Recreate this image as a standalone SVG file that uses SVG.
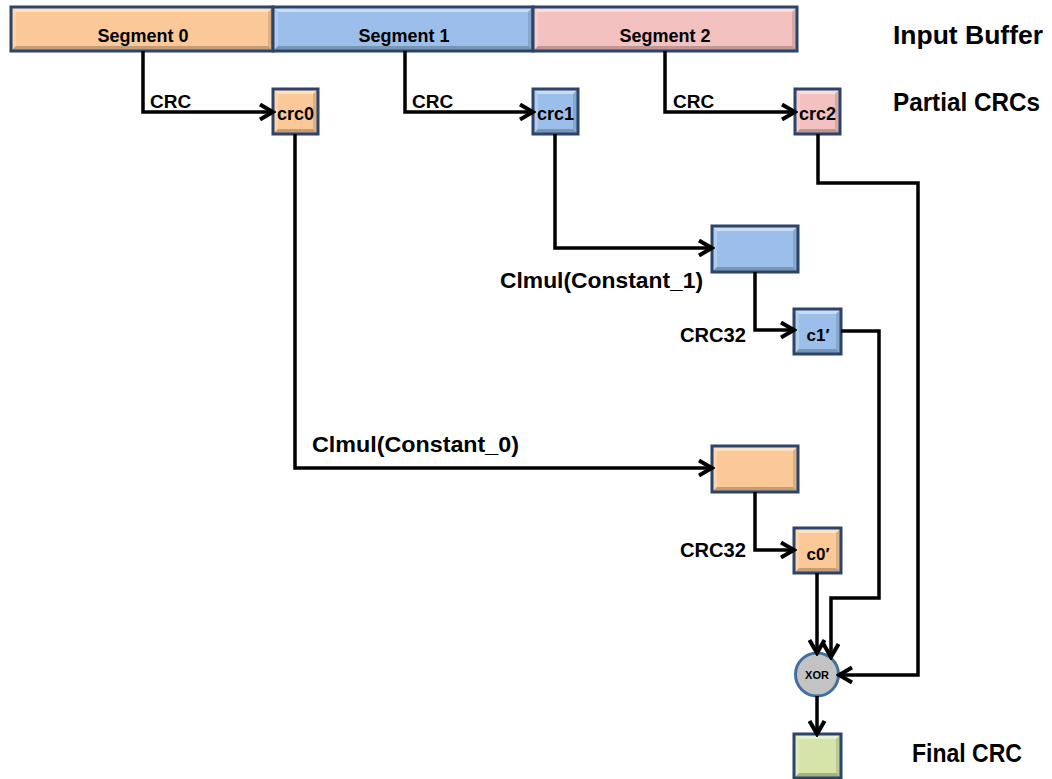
<svg xmlns="http://www.w3.org/2000/svg" width="1052" height="779" viewBox="0 0 1052 779">
<defs>
<style>
.box{stroke:#2c4468;stroke-width:3}
.org{fill:#fbc998}
.blu{fill:#9bbfea}
.pnk{fill:#f4c1c1}
.grn{fill:#d6e4aa}
.hl{fill:#ffffff;fill-opacity:0.45}
.hl2{fill:#ffffff;fill-opacity:0.22}
.sh{fill:#000000;fill-opacity:0.12}
.sh2{fill:#000000;fill-opacity:0.22}
.t{font-family:"Liberation Sans",Arial,sans-serif;font-weight:bold;fill:#000}
.seg{font-size:18px;text-anchor:middle}
.sm{font-size:18px;text-anchor:middle}
.lbl{font-size:19px}
.big{font-size:25px}
.mid{font-size:22px}
.c32{font-size:20px}
.conn path{fill:none;stroke:#000;stroke-width:3.5;stroke-linejoin:miter}
</style>
<marker id="arr" viewBox="0 0 18 18" markerWidth="18" markerHeight="18" refX="15" refY="9" orient="auto" markerUnits="userSpaceOnUse">
<path d="M2,1.5 L15,9 L2,16.5" fill="none" stroke="#000" stroke-width="4"/>
</marker>
</defs>
<rect width="1052" height="779" fill="#ffffff"/>

<g id="input-buffer">
<g id="segment0">
<rect class="org" x="11" y="7" width="262" height="44"/>
<polygon class="hl" points="11,7 273,7 268,12 16,12"/>
<polygon class="hl2" points="11,7 16,12 16,46 11,51"/>
<polygon class="sh" points="273,7 273,51 268,46 268,12"/>
<polygon class="sh2" points="11,51 16,46 268,46 273,51"/>
<rect class="box" x="11" y="7" width="262" height="44" fill="none"/>
<text class="t seg" x="143" y="42">Segment 0</text>
</g>
<g id="segment1">
<rect class="blu" x="273" y="7" width="260" height="44"/>
<polygon class="hl" points="273,7 533,7 528,12 278,12"/>
<polygon class="hl2" points="273,7 278,12 278,46 273,51"/>
<polygon class="sh" points="533,7 533,51 528,46 528,12"/>
<polygon class="sh2" points="273,51 278,46 528,46 533,51"/>
<rect class="box" x="273" y="7" width="260" height="44" fill="none"/>
<text class="t seg" x="404" y="42">Segment 1</text>
</g>
<g id="segment2">
<rect class="pnk" x="533" y="7" width="264" height="44"/>
<polygon class="hl" points="533,7 797,7 792,12 538,12"/>
<polygon class="hl2" points="533,7 538,12 538,46 533,51"/>
<polygon class="sh" points="797,7 797,51 792,46 792,12"/>
<polygon class="sh2" points="533,51 538,46 792,46 797,51"/>
<rect class="box" x="533" y="7" width="264" height="44" fill="none"/>
<text class="t seg" x="665" y="42">Segment 2</text>
</g>
</g>

<g id="crc0">
<rect class="org" x="273" y="89" width="45" height="45"/>
<polygon class="hl" points="273,89 318,89 313,94 278,94"/>
<polygon class="hl2" points="273,89 278,94 278,129 273,134"/>
<polygon class="sh" points="318,89 318,134 313,129 313,94"/>
<polygon class="sh2" points="273,134 278,129 313,129 318,134"/>
<rect class="box" x="273" y="89" width="45" height="45" fill="none"/>
<text class="t sm" x="295.5" y="120">crc0</text>
</g>
<g id="crc1">
<rect class="blu" x="533" y="89" width="45" height="45"/>
<polygon class="hl" points="533,89 578,89 573,94 538,94"/>
<polygon class="hl2" points="533,89 538,94 538,129 533,134"/>
<polygon class="sh" points="578,89 578,134 573,129 573,94"/>
<polygon class="sh2" points="533,134 538,129 573,129 578,134"/>
<rect class="box" x="533" y="89" width="45" height="45" fill="none"/>
<text class="t sm" x="555.5" y="120">crc1</text>
</g>
<g id="crc2">
<rect class="pnk" x="795" y="89" width="45" height="45"/>
<polygon class="hl" points="795,89 840,89 835,94 800,94"/>
<polygon class="hl2" points="795,89 800,94 800,129 795,134"/>
<polygon class="sh" points="840,89 840,134 835,129 835,94"/>
<polygon class="sh2" points="795,134 800,129 835,129 840,134"/>
<rect class="box" x="795" y="89" width="45" height="45" fill="none"/>
<text class="t sm" x="817.5" y="120">crc2</text>
</g>

<g id="clmul1">
<rect class="blu" x="712" y="226" width="86" height="46"/>
<polygon class="hl" points="712,226 798,226 793,231 717,231"/>
<polygon class="hl2" points="712,226 717,231 717,267 712,272"/>
<polygon class="sh" points="798,226 798,272 793,267 793,231"/>
<polygon class="sh2" points="712,272 717,267 793,267 798,272"/>
<rect class="box" x="712" y="226" width="86" height="46" fill="none"/>
</g>
<g id="c1p">
<rect class="blu" x="794" y="309" width="47" height="45"/>
<polygon class="hl" points="794,309 841,309 836,314 799,314"/>
<polygon class="hl2" points="794,309 799,314 799,349 794,354"/>
<polygon class="sh" points="841,309 841,354 836,349 836,314"/>
<polygon class="sh2" points="794,354 799,349 836,349 841,354"/>
<rect class="box" x="794" y="309" width="47" height="45" fill="none"/>
<text class="t" x="818" y="341" font-size="17" text-anchor="middle">c1′</text>
</g>

<g id="clmul0">
<rect class="org" x="712" y="446" width="86" height="46"/>
<polygon class="hl" points="712,446 798,446 793,451 717,451"/>
<polygon class="hl2" points="712,446 717,451 717,487 712,492"/>
<polygon class="sh" points="798,446 798,492 793,487 793,451"/>
<polygon class="sh2" points="712,492 717,487 793,487 798,492"/>
<rect class="box" x="712" y="446" width="86" height="46" fill="none"/>
</g>
<g id="c0p">
<rect class="org" x="794" y="528" width="47" height="45"/>
<polygon class="hl" points="794,528 841,528 836,533 799,533"/>
<polygon class="hl2" points="794,528 799,533 799,568 794,573"/>
<polygon class="sh" points="841,528 841,573 836,568 836,533"/>
<polygon class="sh2" points="794,573 799,568 836,568 841,573"/>
<rect class="box" x="794" y="528" width="47" height="45" fill="none"/>
<text class="t" x="818" y="560" font-size="17" text-anchor="middle">c0′</text>
</g>

<g id="xor">
<circle cx="817" cy="674.5" r="21.5" fill="#c3c3c3" stroke="#41709e" stroke-width="3"/>
<text class="t" x="817" y="678.5" font-size="11" text-anchor="middle">XOR</text>
</g>

<g id="final">
<rect class="grn" x="794" y="734" width="47" height="44"/>
<polygon class="hl" points="794,734 841,734 836,739 799,739"/>
<polygon class="hl2" points="794,734 799,739 799,773 794,778"/>
<polygon class="sh" points="841,734 841,778 836,773 836,739"/>
<polygon class="sh2" points="794,778 799,773 836,773 841,778"/>
<rect class="box" x="794" y="734" width="47" height="44" fill="none"/>
</g>

<g id="connectors" class="conn">
<path d="M143,51 V112 H273" marker-end="url(#arr)"/>
<path d="M405,51 V112 H533" marker-end="url(#arr)"/>
<path d="M665,51 V112 H795" marker-end="url(#arr)"/>
<path d="M295,134 V468 H712" marker-end="url(#arr)"/>
<path d="M555,134 V248 H712" marker-end="url(#arr)"/>
<path d="M818,134 V183 H918 V675 H839" marker-end="url(#arr)"/>
<path d="M755,272 V330 H794" marker-end="url(#arr)"/>
<path d="M841,331 H879 V598 H831 V657" marker-end="url(#arr)"/>
<path d="M755,492 V550 H794" marker-end="url(#arr)"/>
<path d="M817,573 V653" marker-end="url(#arr)"/>
<path d="M817,696 V734" marker-end="url(#arr)"/>
</g>

<g id="labels">
<text class="t lbl" x="150" y="108">CRC</text>
<text class="t lbl" x="412" y="108">CRC</text>
<text class="t lbl" x="673" y="108">CRC</text>
<text class="t mid" x="500" y="288" textLength="203" lengthAdjust="spacingAndGlyphs">Clmul(Constant_1)</text>
<text class="t mid" x="312" y="452" textLength="207" lengthAdjust="spacingAndGlyphs">Clmul(Constant_0)</text>
<text class="t c32" x="680" y="342" textLength="66" lengthAdjust="spacingAndGlyphs">CRC32</text>
<text class="t c32" x="680" y="557" textLength="66" lengthAdjust="spacingAndGlyphs">CRC32</text>
<text class="t big" x="893" y="44" textLength="150" lengthAdjust="spacingAndGlyphs">Input Buffer</text>
<text class="t big" x="893" y="111" textLength="147" lengthAdjust="spacingAndGlyphs">Partial CRCs</text>
<text class="t big" x="912" y="762" textLength="110" lengthAdjust="spacingAndGlyphs">Final CRC</text>
</g>
</svg>
